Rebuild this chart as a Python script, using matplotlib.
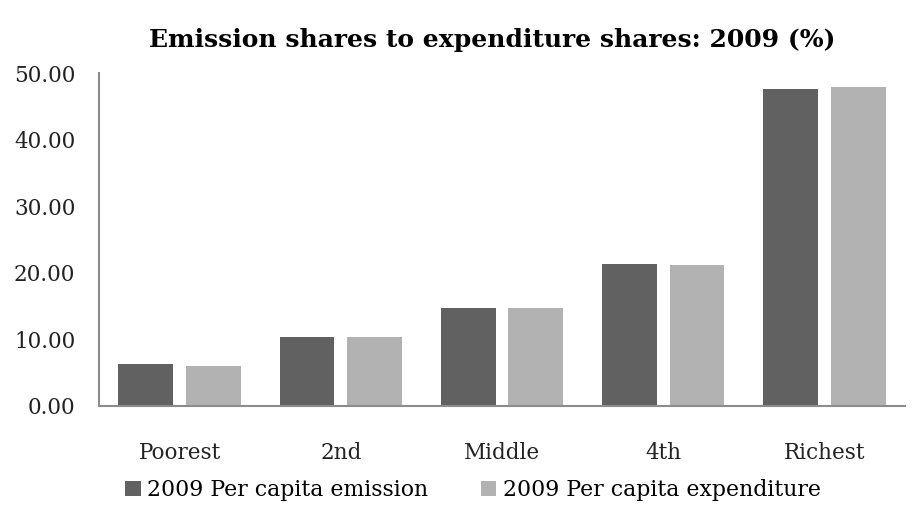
import numpy as np
import matplotlib.pyplot as plt

categories = ["Poorest", "2nd", "Middle", "4th", "Richest"]
emission = [6.3, 10.35, 14.7, 21.3, 47.6]
expenditure = [6.0, 10.3, 14.7, 21.2, 47.9]
series_names = ["2009 Per capita emission", "2009 Per capita expenditure"]

plt.rcParams['font.family'] = ['DejaVu Serif']

fig = plt.figure(figsize=(9.17, 5.12), dpi=100)
ax = fig.add_axes([99 / 917, 1 - 406 / 512, 806 / 917, 333 / 512])

x = np.arange(len(categories))
w = 0.34
ax.bar(x - 0.21, emission, w, color="#616161", label=series_names[0])
ax.bar(x + 0.21, expenditure, w, color="#b2b2b2", label=series_names[1])

ax.set_xlim(-0.5, len(categories) - 0.5)
ax.set_ylim(0, 50)
ax.set_yticks(np.arange(0, 51, 10))
ax.set_yticklabels(["%.2f" % v for v in np.arange(0, 51, 10)])
ax.set_xticks(x)
ax.set_xticklabels(categories)
ax.tick_params(length=0, labelsize=15.5, colors="#222222")
ax.tick_params(axis="x", pad=26)
ax.tick_params(axis="y", pad=17)

for s in ["top", "right"]:
    ax.spines[s].set_visible(False)
for s in ["left", "bottom"]:
    ax.spines[s].set_color("#8c8c8c")
    ax.spines[s].set_linewidth(1.5)

fig.suptitle("Emission shares to expenditure shares: 2009 (%)", fontsize=18,
             fontweight="bold", x=0.537, y=0.945)
fig.legend(loc="lower center", bbox_to_anchor=(0.516, -0.018), ncol=2, frameon=False,
           fontsize=15.8, handlelength=0.7, handleheight=0.7, handletextpad=0.3,
           columnspacing=2.4)

plt.savefig("out.png", dpi=100)
